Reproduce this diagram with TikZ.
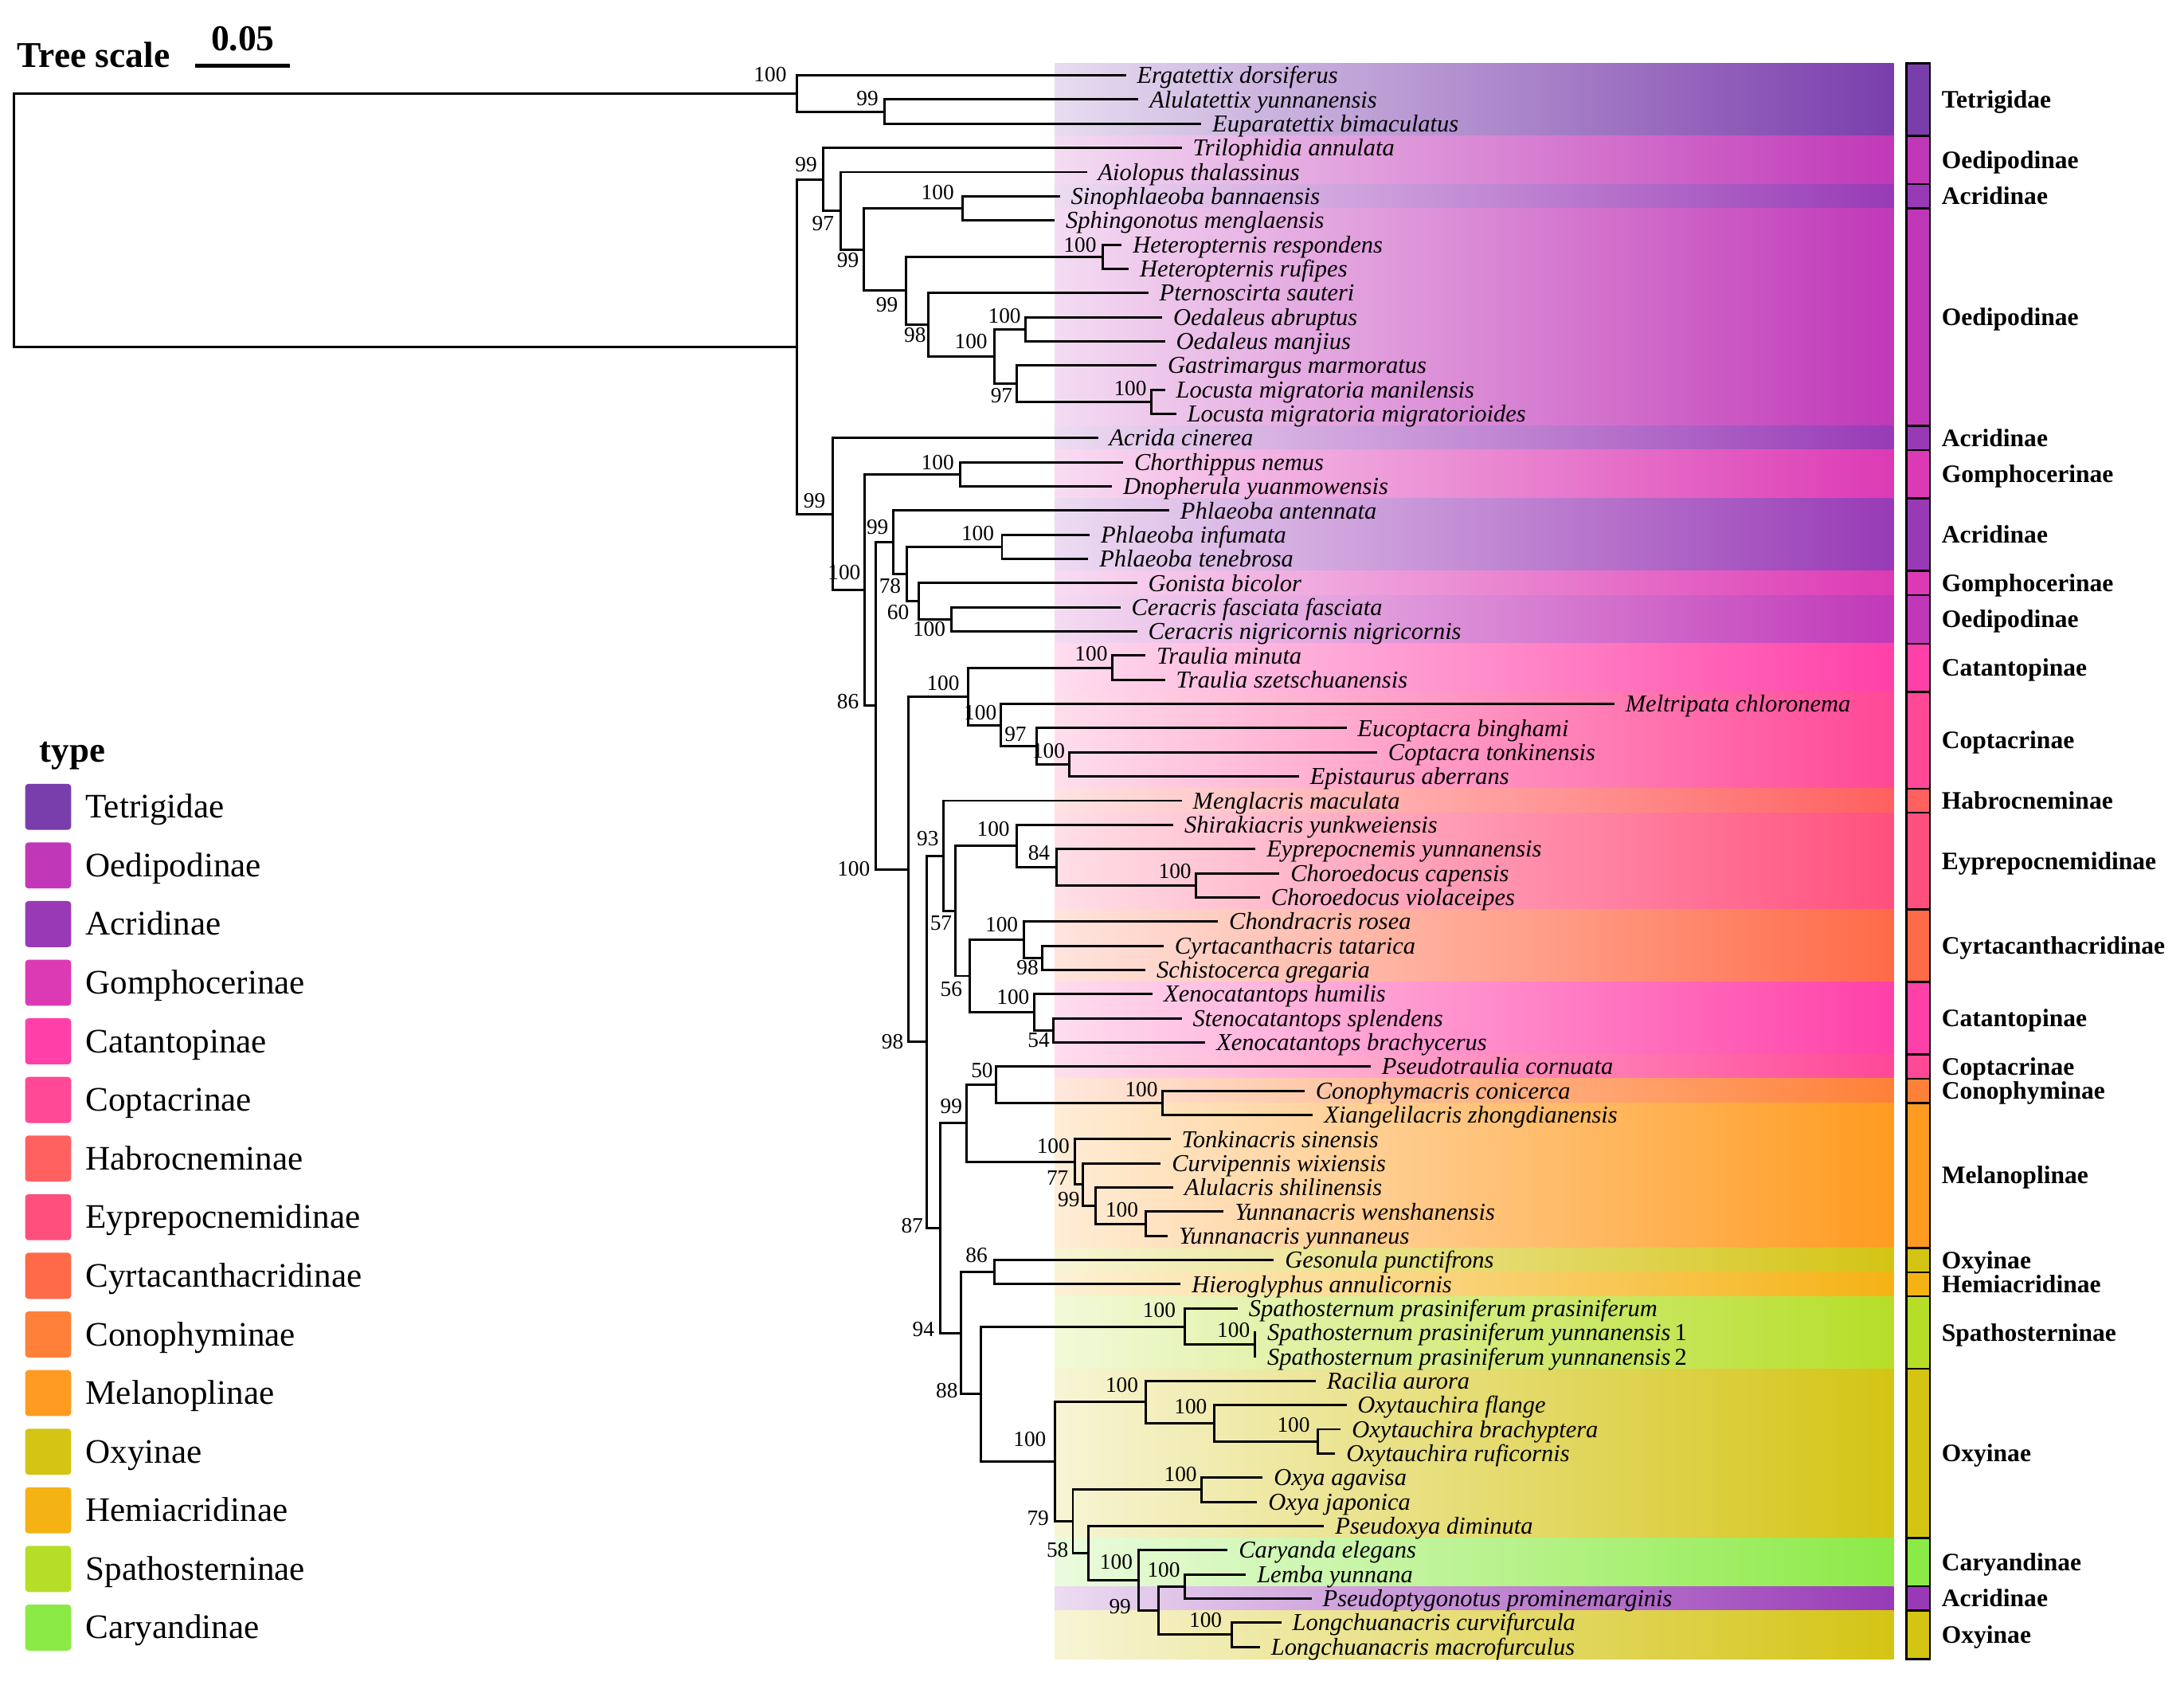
\documentclass[tikz,border=0pt]{standalone}
\usepackage{fontspec}
\setmainfont{Liberation Serif}
\definecolor{cTet}{RGB}{122,62,172}
\definecolor{cOed}{RGB}{192,56,184}
\definecolor{cAcr}{RGB}{152,58,182}
\definecolor{cGom}{RGB}{220,58,180}
\definecolor{cCat}{RGB}{255,64,168}
\definecolor{cCop}{RGB}{255,72,150}
\definecolor{cHab}{RGB}{255,96,96}
\definecolor{cEyp}{RGB}{255,80,125}
\definecolor{cCyr}{RGB}{255,106,72}
\definecolor{cCon}{RGB}{255,128,56}
\definecolor{cMel}{RGB}{255,155,32}
\definecolor{cOxy}{RGB}{212,196,20}
\definecolor{cHem}{RGB}{245,178,20}
\definecolor{cSpa}{RGB}{182,222,40}
\definecolor{cCar}{RGB}{140,234,70}
\begin{document}
\begin{tikzpicture}[x=0.5pt,y=-0.5pt,
  br/.style={line width=0.85pt, line join=miter, line cap=rect},
  leaf/.style={anchor=base west, inner sep=0pt, xshift=4.2pt, yshift=-2.9pt, font=\fontsize{8.7}{9}\selectfont\itshape},
  bs/.style={anchor=base east, inner sep=0pt, yshift=-2.6pt, font=\fontsize{7.8}{8}\selectfont},
  sub/.style={anchor=base west, inner sep=0pt, yshift=-3pt, font=\fontsize{9}{10}\selectfont\bfseries},
  leg/.style={anchor=base west, inner sep=0pt, yshift=-4pt, font=\fontsize{12.3}{13}\selectfont},
  sw/.style={rounded corners=1.2pt}]
\useasboundingbox (0,0) rectangle (1565,1209.5);

% ---------- colour bands, bar and subfamily labels
\foreach \a/\b/\c/\t in {1/3/cTet/Tetrigidae, 4/5/cOed/Oedipodinae, 6/6/cAcr/Acridinae,
  7/15/cOed/Oedipodinae, 16/16/cAcr/Acridinae, 17/18/cGom/Gomphocerinae,
  19/21/cAcr/Acridinae, 22/22/cGom/Gomphocerinae, 23/24/cOed/Oedipodinae,
  25/26/cCat/Catantopinae, 27/30/cCop/Coptacrinae, 31/31/cHab/Habrocneminae,
  32/35/cEyp/Eyprepocnemidinae, 36/38/cCyr/Cyrtacanthacridinae, 39/41/cCat/Catantopinae,
  42/42/cCop/Coptacrinae, 43/43/cCon/Conophyminae, 44/49/cMel/Melanoplinae,
  50/50/cOxy/Oxyinae, 51/51/cHem/Hemiacridinae, 52/54/cSpa/Spathosterninae,
  55/61/cOxy/Oxyinae, 62/63/cCar/Caryandinae, 64/64/cAcr/Acridinae, 65/66/cOxy/Oxyinae}{
  \pgfmathsetmacro\ta{54+(\a-1)*17.32-8.66}
  \pgfmathsetmacro\tb{54+(\b-1)*17.32+8.66}
  \pgfmathsetmacro\tm{(\ta+\tb)/2}
  \shade[left color=\c!18!white, right color=\c] (756,\ta) rectangle (1357,\tb);
  \draw[fill=\c, line width=0.7pt] (1366,\ta) rectangle (1383,\tb);
  \node[sub] (g\a) at (1391,\tm) {\t};
}

% ---------- leaves
\foreach \i/\x/\t in {1/806/Ergatettix dorsiferus, 2/815/Alulatettix yunnanensis,
  3/860/Euparatettix bimaculatus, 4/846/Trilophidia annulata, 5/778/Aiolopus thalassinus,
  6/758.7/Sinophlaeoba bannaensis, 7/755/Sphingonotus menglaensis,
  8/803/Heteropternis respondens, 9/808/Heteropternis rufipes, 10/822/Pternoscirta sauteri,
  11/832/Oedaleus abruptus, 12/834/Oedaleus manjius, 13/828/Gastrimargus marmoratus,
  14/834/Locusta migratoria manilensis, 15/842/Locusta migratoria migratorioides,
  16/786/Acrida cinerea, 17/804/Chorthippus nemus, 18/796/Dnopherula yuanmowensis,
  19/837/Phlaeoba antennata, 20/780/Phlaeoba infumata, 21/779/Phlaeoba tenebrosa,
  22/814/Gonista bicolor, 23/802/Ceracris fasciata fasciata,
  24/814/Ceracris nigricornis nigricornis, 25/820/Traulia minuta,
  26/834/Traulia szetschuanensis, 27/1156/Meltripata chloronema,
  28/964/Eucoptacra binghami, 29/986/Coptacra tonkinensis, 30/930/Epistaurus aberrans,
  31/846/Menglacris maculata, 32/840/Shirakiacris yunkweiensis,
  33/898.9/Eyprepocnemis yunnanensis, 34/916/Choroedocus capensis,
  35/902/Choroedocus violaceipes, 36/872/Chondracris rosea,
  37/833/Cyrtacanthacris tatarica, 38/820/Schistocerca gregaria,
  39/825.2/Xenocatantops humilis, 40/846/Stenocatantops splendens,
  41/862.9/Xenocatantops brachycerus, 42/981.4/Pseudotraulia cornuata,
  43/934/Conophymacris conicerca, 44/940/Xiangelilacris zhongdianensis,
  45/838/Tonkinacris sinensis, 46/831/Curvipennis wixiensis, 47/840/Alulacris shilinensis,
  48/876/Yunnanacris wenshanensis, 49/836/Yunnanacris yunnaneus,
  50/912/Gesonula punctifrons, 51/845.2/Hieroglyphus annulicornis,
  52/886/Spathosternum prasiniferum prasiniferum,
  53/899.3/{Spathosternum prasiniferum yunnanensis\,\textup{1}},
  54/899.3/{Spathosternum prasiniferum yunnanensis\,\textup{2}},
  55/942/Racilia aurora, 56/964/Oxytauchira flange, 57/960/Oxytauchira brachyptera,
  58/956/Oxytauchira ruficornis, 59/904/Oxya agavisa, 60/900/Oxya japonica,
  61/948/Pseudoxya diminuta, 62/878.9/Caryanda elegans, 63/892/Lemba yunnana,
  64/939/Pseudoptygonotus prominemarginis, 65/917.3/Longchuanacris curvifurcula,
  66/902/Longchuanacris macrofurculus}{
  \coordinate (L\i) at (\x,{54+(\i-1)*17.32});
  \node[leaf] (tx\i) at (L\i) {\t};
}

% ---------- internal nodes with support values
\coordinate (R) at (10,157.68);
\coordinate (A) at (571,248.37);
\foreach \n/\x/\y/\lx/\ly/\v in {T/571/66.99/564/53.3/100, Na/633.8/79.98/629.8/70.4/99,
  Noed/589.8/128.49/585.8/118/99, N97/602.6/151.02/598/160/97,
  N99b/619/178.76/615.8/186.5/99, N100a/690/149.26/684/138/100,
  N99c/649/208.26/643.8/218/99, N100b/790/183.9/786/175.5/100,
  N98/665/232.61/663.9/239.8/98, N100c/712.7/255.35/707.9/244.5/100,
  N100d/735/235.86/731.9/226.5/100, N97b/728.7/274.83/725.9/283.5/97,
  N100e/825.2/287.82/822/278.4/100, NB/596.6/368.25/591.8/358.6/99,
  N100f/619.8/422.69/617/410/100, N100g/687.9/339.78/684/331/100,
  N86/627.8/505.6/615.8/502.7/86, N99d/640/388.49/637/377.7/99,
  N78/649.8/411.23/646/420/78, N100i/718/391.74/712.7/382/100,
  N60/658.6/430.71/651.8/438.6/60, N100j/681.9/443.7/677.9/450.6/100,
  N100h/651/622.7/623.8/622.2/100, N100k/693.9/498.91/687.9/489.4/100,
  N100l/797.2/478.34/794/468.5/100, N100m/717.1/519.48/714.5/510.3/100,
  N97c/742.7/534.63/735.9/526.1/97, N100n/766/547.62/763.5/538.1/100,
  N98b/663.9/746.5/647.8/746.3/98, N93/675.9/613.11/673/600.9/93,
  N57/684.7/652.63/682.5/661.2/57, N100S/728.7/606.08/723.9/593.7/100,
  N84/757.1/621.23/752.7/610.8/84, N100o/856.9/634.22/854/624.1/100,
  N56/694.7/699.17/689.9/708.8/56, N100p/733.9/673.19/729.9/662.2/100,
  N98c/747.1/686.18/744.5/693/98, N100q/741.1/725.15/738/714.5/100,
  N54/754.7/738.14/752.5/745/54, N87/673.9/879.89/661.8/878/87,
  N99e/692.7/804.72/689.9/792.5/99, N50/713.9/777.11/711.9/766.8/50,
  N100r/833.2/790.1/830/780.2/100, N100s/770/832.32/766.8/821/100,
  N77/776/848.56/766/843.8/77, N99f/785.2/863.71/774/859/99,
  N100t/821.2/876.7/816/866.6/100, N94/688.7/955.05/669.9/952.3/94,
  N86b/712.7/911.34/708/899/86, N88/703.1/998.76/686.7/996/88,
  N100u/848.8/950.31/842.8/938.4/100, N100w/899.3/963.3/896/952.8/100,
  N100v/755.9/1047.2/750/1031.2/100, N100x/821.2/1004.44/816/992.2/100,
  N100C/870/1019.59/865.3/1007.4/100, N100D/944.1/1032.58/939/1020.8/100,
  N79/768.8/1089.96/752/1087.4/79, N100y/860.8/1067.22/858/1056/100,
  N58/780/1112.69/766/1110.1/58, N100z/816/1132.17/812/1118.7/100,
  N99g/830/1153.82/810.8/1151/99, N100A/848.8/1136.5/846/1124.4/100,
  N100B/882.9/1171.14/876/1160.6/100}{
  \coordinate (\n) at (\x,\y);
  \node[bs] (b\n) at (\lx,\ly) {\v};
}

% ---------- branches
\foreach \p/\a/\b in {R/T/A, T/L1/Na, Na/L2/L3, A/Noed/NB, Noed/L4/N97, N97/L5/N99b,
  N99b/N100a/N99c, N100a/L6/L7, N99c/N100b/N98, N100b/L8/L9, N98/L10/N100c,
  N100c/N100d/N97b, N100d/L11/L12, N97b/L13/N100e, N100e/L14/L15, NB/L16/N100f,
  N100f/N100g/N86, N100g/L17/L18, N86/N99d/N100h, N99d/L19/N78, N78/N100i/N60,
  N100i/L20/L21, N60/L22/N100j, N100j/L23/L24, N100h/N100k/N98b, N100k/N100l/N100m,
  N100l/L25/L26, N100m/L27/N97c, N97c/L28/N100n, N100n/L29/L30, N98b/N93/N87,
  N93/L31/N57, N57/N100S/N56, N100S/L32/N84, N84/L33/N100o, N100o/L34/L35,
  N56/N100p/N100q, N100p/L36/N98c, N98c/L37/L38, N100q/L39/N54, N54/L40/L41,
  N87/N99e/N94, N99e/N50/N100s, N50/L42/N100r, N100r/L43/L44, N100s/L45/N77,
  N77/L46/N99f, N99f/L47/N100t, N100t/L48/L49, N94/N86b/N88, N86b/L50/L51,
  N88/N100u/N100v, N100u/L52/N100w, N100w/L53/L54, N100v/N100x/N79,
  N100x/L55/N100C, N100C/L56/N100D, N100D/L57/L58, N79/N100y/N58, N100y/L59/L60,
  N58/L61/N100z, N100z/L62/N99g, N99g/N100A/N100B, N100A/L63/L64, N100B/L65/L66}{
  \draw[br] (\p) |- (\a) (\p) |- (\b);
}

% ---------- tree scale
\node[anchor=base west, inner sep=0pt, font=\fontsize{13}{14}\selectfont\bfseries] (ts) at (12,48) {Tree scale};
\node[anchor=base, inner sep=0pt, font=\fontsize{13}{14}\selectfont\bfseries] (tsv) at (174,36) {0.05};
\coordinate (sb1) at (140,47);
\coordinate (sb2) at (208,47);
\draw[line width=1.4pt] (sb1) -- (sb2);

% ---------- legend
\node[anchor=base west, inner sep=0pt, font=\fontsize{12.8}{13}\selectfont\bfseries] (legt) at (28,546) {type};
\foreach \k/\c/\t in {0/cTet/Tetrigidae, 1/cOed/Oedipodinae, 2/cAcr/Acridinae,
  3/cGom/Gomphocerinae, 4/cCat/Catantopinae, 5/cCop/Coptacrinae, 6/cHab/Habrocneminae,
  7/cEyp/Eyprepocnemidinae, 8/cCyr/Cyrtacanthacridinae, 9/cCon/Conophyminae,
  10/cMel/Melanoplinae, 11/cOxy/Oxyinae, 12/cHem/Hemiacridinae,
  13/cSpa/Spathosterninae, 14/cCar/Caryandinae}{
  \pgfmathsetmacro\ly{578+\k*42}
  \fill[sw, \c] (18,\ly-16.5) rectangle (51,\ly+16.5);
  \node[leg] (lg\k) at (61,\ly) {\t};
}
\end{tikzpicture}
\end{document}
